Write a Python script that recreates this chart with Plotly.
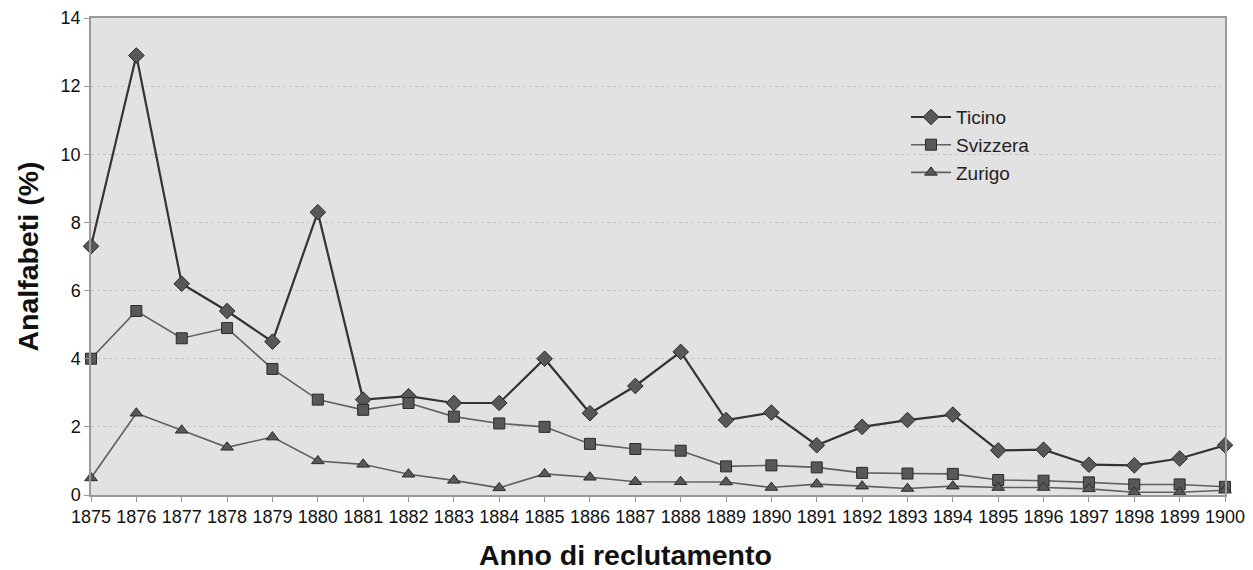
import plotly.graph_objects as go

years = list(range(1875, 1901))
ticino = [7.3, 12.9, 6.2, 5.4, 4.5, 8.3, 2.8, 2.9, 2.7, 2.7, 4.0, 2.4, 3.2, 4.2, 2.2,
          2.42, 1.46, 2.0, 2.2, 2.36, 1.31, 1.33, 0.89, 0.87, 1.07, 1.46]
svizzera = [4.0, 5.4, 4.6, 4.9, 3.7, 2.8, 2.5, 2.7, 2.3, 2.1, 2.0, 1.5, 1.35, 1.3, 0.84,
            0.87, 0.81, 0.65, 0.63, 0.62, 0.44, 0.42, 0.37, 0.31, 0.31, 0.24]
zurigo = [0.5, 2.4, 1.9, 1.4, 1.7, 1.0, 0.9, 0.61, 0.43, 0.21, 0.62, 0.52, 0.39, 0.39, 0.38,
          0.22, 0.32, 0.26, 0.19, 0.26, 0.22, 0.22, 0.18, 0.08, 0.08, 0.14]
y_ticks = [0, 2, 4, 6, 8, 10, 12, 14]

FONT = "Liberation Sans, Arial, sans-serif"

fig = go.Figure()
series = [
    ("Ticino", ticino, "diamond", "#333333", 2.2, 12),
    ("Svizzera", svizzera, "square", "#606060", 1.6, 11),
    ("Zurigo", zurigo, "triangle-up", "#606060", 1.6, 11),
]
for name, vals, sym, lc, lw, ms in series:
    fig.add_trace(go.Scatter(
        x=years, y=vals, name=name, mode="lines+markers",
        line=dict(color=lc, width=lw),
        marker=dict(symbol=sym, size=ms, color="#585858",
                    line=dict(color="#2a2a2a", width=1)),
        cliponaxis=False,
    ))

# page body has an 8px default margin, so the figure is 8px smaller
fig.update_layout(
    width=1245, height=562,
    margin=dict(l=83, r=28, t=10, b=75),
    paper_bgcolor="white",
    plot_bgcolor="#e2e2e2",
    font=dict(family=FONT, color="#111111"),
    legend=dict(
        x=0.7187, y=0.832, xanchor="left", yanchor="top",
        bgcolor="rgba(0,0,0,0)", font=dict(size=19, color="#222222"),
        itemwidth=40, tracegroupgap=0,
    ),
    showlegend=True,
    annotations=[dict(
        text="<b>Anno di reclutamento</b>", xref="paper", yref="paper",
        x=0.471, y=-0.125, xanchor="center", yanchor="middle", showarrow=False,
        font=dict(size=28.5, color="#111111"),
    )],
)
fig.update_xaxes(
    range=[1875, 1900], tickmode="array", tickvals=years,
    ticktext=[str(y) for y in years],
    tickfont=dict(size=18, color="#111111"),
    ticks="outside", ticklen=5, tickcolor="#999999",
    showline=True, linecolor="#9a9a9a", linewidth=1.5, mirror=True,
    showgrid=False, zeroline=False, automargin=False,
    ticklabeloverflow="allow",
)
fig.update_yaxes(
    range=[0, 14], tickmode="array", tickvals=y_ticks,
    tickfont=dict(size=18, color="#111111"),
    ticks="outside", ticklen=5, tickcolor="#999999",
    showline=True, linecolor="#9a9a9a", linewidth=1.5, mirror=True,
    showgrid=True, gridcolor="#c4c4c4", griddash="dot", gridwidth=1,
    zeroline=False, automargin=False, ticklabeloverflow="allow",
    title=dict(text="<b>Analfabeti (%)</b>", font=dict(size=28.5, color="#111111"), standoff=14),
)

fig.write_html("out.html")
